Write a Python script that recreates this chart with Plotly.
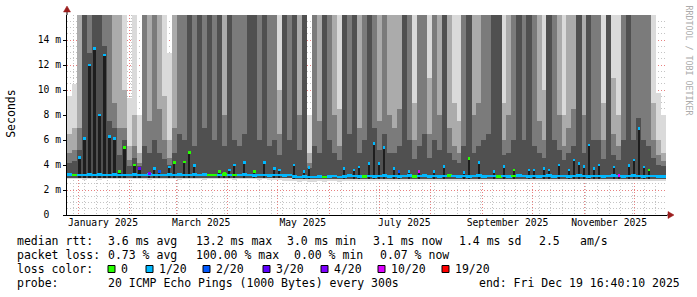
import plotly.graph_objects as go
import pandas as pd

# ------------------------------------------------------------------ data
period_start = "2024-12-25 09:20"
period_end = "2025-12-20 19:00"
window_days = 3  # one consolidated column = 3 days

# sorted ping ranks of 20 (ms), per 3-day window; 20 = beyond the axis top
rtt_min = [2.85, 2.85, 2.85, 2.8, 2.85, 2.85, 2.8, 2.85, 2.85, 2.85, 2.85, 2.85, 2.9, 2.85, 2.85, 2.85, 2.8, 2.85, 2.85, 2.85,
           2.85, 2.85, 2.8, 2.85, 2.85, 2.85, 2.85, 2.8, 2.85, 2.85, 2.85, 2.85, 2.85, 2.8, 2.85, 2.85, 2.85, 2.85, 2.8, 2.85,
           2.8, 2.8, 2.8, 2.75, 2.75, 2.7, 2.65, 2.7, 2.65, 2.65, 2.7, 2.65, 2.7, 2.7, 2.65, 2.7, 2.7, 2.7, 2.7, 2.7,
           2.7, 2.7, 2.7, 2.7, 2.7, 2.7, 2.7, 2.7, 2.7, 2.7, 2.7, 2.7, 2.7, 2.7, 2.7, 2.7, 2.7, 2.7, 2.7, 2.7,
           2.7, 2.7, 2.7, 2.7, 2.7, 2.7, 2.7, 2.7, 2.7, 2.7, 2.7, 2.7, 2.7, 2.7, 2.7, 2.7, 2.7, 2.7, 2.7, 2.7,
           2.7, 2.7, 2.7, 2.7, 2.7, 2.7, 2.7, 2.7, 2.7, 2.7, 2.7, 2.7, 2.7, 2.7, 2.7, 2.7, 2.7, 2.7, 2.7, 2.7]
rtt_lo = [3.0] * 0 + [3.0, 3.0, 3.0, 3.0, 3.0, 3.0, 3.0, 3.0, 3.0, 3.0, 3.0, 3.0, 3.0, 3.0, 3.0, 3.0, 3.0, 3.0, 3.0, 3.0,
          3.0, 3.0, 3.0, 3.0, 3.0, 3.0, 3.0, 3.0, 3.0, 3.0, 3.0, 3.0, 3.0, 3.0, 3.0, 3.0, 3.0, 3.0, 3.0, 3.0,
          3.0, 3.0, 3.0, 2.98, 2.96, 2.92, 2.9, 2.92, 2.9, 2.9, 2.92, 2.9, 2.92, 2.92, 2.9, 2.92, 2.92, 2.92, 2.92, 2.92,
          2.92, 2.92, 2.92, 2.92, 2.92, 2.92, 2.92, 2.92, 2.92, 2.92, 2.92, 2.92, 2.92, 2.92, 2.92, 2.92, 2.92, 2.92, 2.92, 2.92,
          2.92, 2.92, 2.92, 2.92, 2.92, 2.92, 2.92, 2.92, 2.92, 2.92, 2.92, 2.92, 2.92, 2.92, 2.92, 2.92, 2.92, 2.92, 2.92, 2.92,
          2.92, 2.92, 2.92, 2.92, 2.92, 2.92, 2.92, 2.92, 2.92, 2.92, 2.92, 2.92, 2.92, 2.92, 2.92, 2.92, 2.92, 2.92, 2.92, 2.92]
rtt_r12 = [4.2, 4.3, 5.2, 20, 13, 20, 20, 13.5, 7.5, 7, 4.8, 6, 3.9, 4.6, 3.9, 5.5, 5, 6, 5, 4.5,
           4.0, 5, 6.5, 6, 20, 5.5, 20, 7, 20, 6, 20, 5.5, 20, 6, 5.5, 6.5, 20, 20, 6, 20,
           5.5, 6, 4.8, 20, 6, 20, 5.2, 20, 3.8, 5.5, 5, 20, 6, 5, 4.4, 20, 6.5, 20, 5, 6,
           20, 7, 5.2, 6.5, 5, 5, 5.5, 20, 6, 4.5, 5.5, 6.5, 4.6, 6, 5.2, 20, 5, 4.4, 4.2, 5.5,
           20, 5, 5.5, 6, 6.5, 20, 20, 4.8, 5, 6, 20, 6, 20, 5.5, 5, 4.6, 20, 6, 5.2, 4.4,
           5, 5.5, 20, 5, 20, 6, 6, 4.5, 20, 4.8, 4.4, 6, 20, 6, 7.8, 6, 5.5, 4.6, 4.0, 3.9]
rtt_r14 = [5.0, 5.2, 7, 20, 20, 20, 20, 20, 20, 9, 7, 7, 4.4, 5.5, 4.2, 20, 7.5, 20, 8.5, 6,
           4.6, 7, 20, 20, 20, 20, 20, 20, 20, 20, 20, 8, 20, 20, 20, 20, 20, 20, 20, 20,
           20, 20, 6.5, 20, 20, 20, 8, 20, 4.2, 20, 7.5, 20, 20, 8, 5.5, 20, 20, 20, 7, 20,
           20, 20, 7.5, 20, 8, 7, 8.5, 20, 20, 6, 20, 20, 6.5, 20, 8, 20, 7, 5.5, 5, 20,
           20, 8, 9, 20, 20, 20, 20, 6, 8, 20, 20, 20, 20, 20, 7.5, 6, 20, 20, 8, 5.5,
           7, 8.5, 20, 8, 20, 20, 20, 6, 20, 6.5, 5.5, 20, 20, 20, 20, 20, 20, 6, 4.8, 4.3]
rtt_r17 = [6.5, 7.0, 20, 20, 20, 20, 20, 20, 20, 20, 20, 10, 5.5, 8, 5.0, 20, 20, 20, 20, 9.5,
           6.0, 20, 20, 20, 20, 20, 20, 20, 20, 20, 20, 20, 20, 20, 20, 20, 20, 20, 20, 20,
           20, 20, 10, 20, 20, 20, 20, 20, 5.0, 20, 20, 20, 20, 20, 8.5, 20, 20, 20, 20, 20,
           20, 20, 20, 20, 20, 20, 20, 20, 20, 9, 20, 20, 11, 20, 20, 20, 20, 9, 7.5, 20,
           20, 20, 20, 20, 20, 20, 20, 9, 20, 20, 20, 20, 20, 20, 20, 10, 20, 20, 20, 8,
           20, 20, 20, 20, 20, 20, 20, 9, 20, 11, 8, 20, 20, 20, 20, 20, 20, 9, 6.0, 5.0]
rtt_r20 = [9.5, 10.5, 20, 20, 20, 20, 20, 20, 20, 20, 20, 20, 9.4, 20, 8.0, 20, 20, 20, 20, 20,
           13.0, 20, 20, 20, 20, 20, 20, 20, 20, 20, 20, 20, 20, 20, 20, 20, 20, 20, 20, 20,
           20, 20, 20, 20, 20, 20, 20, 20, 8.0, 20, 20, 20, 20, 20, 20, 20, 20, 20, 20, 20,
           20, 20, 20, 20, 20, 20, 20, 20, 20, 20, 20, 20, 20, 20, 20, 20, 20, 20, 20, 20,
           20, 20, 20, 20, 20, 20, 20, 20, 20, 20, 20, 20, 20, 20, 20, 20, 20, 20, 20, 20,
           20, 20, 20, 20, 20, 20, 20, 20, 20, 20, 20, 20, 20, 20, 20, 20, 20, 20, 9.8, 8.0]

# typical median rtt per window (ms) and the highest median seen in the window
rtt_median = [3.22, 3.2, 3.2, 3.2, 3.22, 3.2, 3.22, 3.2, 3.2, 3.22, 3.2, 3.2, 3.2, 3.22, 3.2, 3.2, 3.22, 3.2, 3.2, 3.2,
              3.22, 3.2, 3.25, 3.2, 3.2, 3.22, 3.2, 3.25, 3.2, 3.2, 3.2, 3.22, 3.2, 3.2, 3.2, 3.22, 3.2, 3.18, 3.2, 3.2,
              3.18, 3.2, 3.2, 3.18, 3.2, 3.1, 3.05, 3.08, 3.05, 3.05, 3.08, 3.05, 3.1, 3.12, 3.05, 3.1, 3.15, 3.12, 3.1, 3.1,
              3.12, 3.1, 3.12, 3.15, 3.1, 3.12, 3.1, 3.12, 3.15, 3.1, 3.12, 3.15, 3.1, 3.12, 3.1, 3.12, 3.15, 3.12, 3.1, 3.12,
              3.1, 3.12, 3.15, 3.1, 3.12, 3.12, 3.1, 3.12, 3.1, 3.12, 3.15, 3.12, 3.1, 3.12, 3.1, 3.12, 3.15, 3.1, 3.12, 3.12,
              3.1, 3.12, 3.15, 3.12, 3.1, 3.12, 3.12, 3.1, 3.12, 3.15, 3.12, 3.1, 3.12, 3.15, 3.12, 3.1, 3.12, 3.12, 3.1, 3.1]
rtt_median_peak = [None, None, 4.6, 6.1, 12.0, 13.3, 8.0, 12.8, 6.3, 6.1, 3.5, 5.4, None, 4.0, 3.7, None, 3.3, 3.75, 3.5, None,
                   3.85, 4.2, None, 4.25, 5.0, 3.95, None, None, None, None, 3.5, 3.35, 3.6, 4.0, None, 4.2, None, 3.5, None, 4.2,
                   None, 3.75, 3.6, None, None, 4.0, None, 3.5, 3.8, None, None, None, None, None, None, 3.75, None, 3.6, 3.85, None,
                   4.1, 5.7, 4.1, 5.4, None, 3.75, 3.5, None, 3.5, None, 3.5, None, None, 3.5, None, 3.9, None, None, None, 3.4,
                   4.5, None, 4.2, None, None, 3.5, None, 3.9, None, 3.6, None, None, 3.6, 3.6, None, 3.7, 3.6, None, 4.0, None,
                   3.6, 4.4, 4.1, 3.9, 5.6, 3.75, 4.0, None, None, 3.85, 3.15, None, 3.95, 4.4, 6.9, 3.85, 3.6, None, None, None]

# lost pings (of 20) for the typical median and for the peak median
loss_median = [1, 0, 1, 1, 1, 1, 1, 1, 1, 1, 1, 1, 1, 1, 1, 1, 1, 1, 1, 1,
               1, 1, 1, 1, 1, 1, 1, 1, 0, 0, 1, 0, 1, 0, 1, 1, 1, 1, 1, 1,
               1, 1, 1, 1, 1, 1, 1, 1, 1, 1, 1, 0, 1, 1, 1, 1, 1, 1, 1, 0,
               1, 1, 1, 1, 1, 1, 1, 1, 1, 0, 1, 1, 1, 1, 1, 1, 0, 1, 1, 1,
               1, 1, 1, 1, 1, 1, 0, 1, 1, 0, 1, 1, 1, 1, 1, 1, 1, 1, 1, 1,
               1, 1, 1, 1, 1, 1, 1, 1, 1, 1, 1, 1, 1, 1, 1, 1, 1, 1, 1, 1]
loss_peak = [1, 0, 1, 1, 1, 1, 1, 1, 1, 1, 0, 0, 1, 0, 3, 1, 4, 1, 2, 1,
             1, 0, 1, 0, 0, 1, 1, 1, 0, 0, 0, 0, 1, 1, 1, 1, 1, 0, 1, 1,
             1, 1, 1, 1, 1, 1, 1, 1, 1, 1, 1, 0, 1, 1, 1, 1, 1, 1, 1, 0,
             1, 1, 1, 1, 1, 1, 2, 1, 1, 0, 10, 1, 1, 1, 1, 1, 0, 1, 1, 1,
             0, 1, 1, 1, 1, 1, 0, 1, 1, 0, 1, 1, 1, 1, 1, 1, 1, 1, 1, 1,
             1, 1, 1, 1, 1, 1, 1, 1, 1, 1, 10, 1, 1, 1, 1, 1, 0, 1, 1, 1]

loss_levels = [0, 1, 2, 3, 4, 10, 19]
loss_labels = ["0", "1/20", "2/20", "3/20", "4/20", "10/20", "19/20"]
loss_colors = ["#26ff00", "#00b8ff", "#0059ff", "#5e00ff", "#7e00ff", "#dd00ff", "#ff0000"]

y_tick_vals = [0, 2, 4, 6, 8, 10, 12, 14]
y_tick_text = ["0\u00a0\u00a0", "2 m", "4 m", "6 m", "8 m", "10 m", "12 m", "14 m"]
month_starts = ["2025-01-01", "2025-02-01", "2025-03-01", "2025-04-01", "2025-05-01", "2025-06-01",
                "2025-07-01", "2025-08-01", "2025-09-01", "2025-10-01", "2025-11-01", "2025-12-01"]
x_label_dates = ["2025-01-16", "2025-03-16", "2025-05-16", "2025-07-16", "2025-09-16", "2025-11-16"]
x_labels = ["January 2025", "March 2025", "May 2025", "July 2025", "September 2025", "November 2025"]

rtt_stats = ["3.6 ms avg", "13.2 ms max", "3.0 ms min", "3.1 ms now", "1.4 ms sd", "2.5", "am/s"]
loss_stats = ["0.73 % avg", "100.00 % max", "0.00 % min", "0.07 % now"]
probe_text = "20 ICMP Echo Pings (1000 Bytes) every 300s"
end_text = "end: Fri Dec 19 16:40:10 2025"
y_title = "Seconds"
watermark = "RRDTOOL / TOBI OETIKER"

# ------------------------------------------------------------------ build
MONO = "DejaVu Sans Mono, monospace"
DAY_MS = 86400000
col_dates = pd.date_range(period_start, periods=len(rtt_median), freq=f"{window_days}D") + pd.Timedelta(hours=12 * window_days)
full_w = window_days * DAY_MS * 1.03


def loss_color(n):
    c = loss_colors[0]
    for lvl, col in zip(loss_levels, loss_colors):
        if n >= lvl:
            c = col
    return c


def bar(xs, base, top, color, width):
    return go.Bar(x=list(xs), base=list(base), y=[t - b for t, b in zip(top, base)],
                  width=width, marker=dict(color=color, line=dict(width=0)),
                  hoverinfo="skip", showlegend=False)


fig = go.Figure()
# smoke: outer pings lightest, inner pings darker
fig.add_trace(bar(col_dates, rtt_min, rtt_r20, "#dadada", full_w))
fig.add_trace(bar(col_dates, rtt_lo, rtt_r17, "#ababab", full_w))
fig.add_trace(bar(col_dates, rtt_lo, rtt_r14, "#7b7b7b", full_w))
fig.add_trace(bar(col_dates, rtt_lo, rtt_r12, "#505050", full_w))

# dark core up to peak medians
pk_idx = [i for i, v in enumerate(rtt_median_peak) if v is not None]
pk_x = [col_dates[i] for i in pk_idx]
pk_v = [rtt_median_peak[i] for i in pk_idx]
fig.add_trace(bar(pk_x, [rtt_lo[i] for i in pk_idx], pk_v, "#1e1e1e", 1.3 * DAY_MS))

# median line coloured by loss
half = 0.11
fig.add_trace(go.Bar(x=list(col_dates), base=[m - half for m in rtt_median], y=[2 * half] * len(rtt_median),
                     width=full_w, marker=dict(color=[loss_color(n) for n in loss_median], line=dict(width=0)),
                     hoverinfo="skip", showlegend=False))
fig.add_trace(go.Bar(x=pk_x, base=[v - half for v in pk_v], y=[2 * half] * len(pk_v),
                     width=1.5 * DAY_MS, marker=dict(color=[loss_color(loss_peak[i]) for i in pk_idx], line=dict(width=0)),
                     hoverinfo="skip", showlegend=False))
fig.add_trace(go.Scatter(x=[], y=[], xaxis="x2", yaxis="y", hoverinfo="skip", showlegend=False))

# ------------------------------------------------------------------ layout
W, H = 697, 297
PL, PR, PT, PB = 67, 667, 15, 215


def px2x(px):
    return (px - PL) / (PR - PL)


def py2y(py):
    return (PB - py) / (PB - PT)


MAJOR = "#e88080"
MINOR = "#c4c4c4"
DASH = "1px,2px"

fig.update_layout(
    width=W, height=H, margin=dict(l=PL, r=W - PR, t=PT, b=H - PB),
    paper_bgcolor="white", plot_bgcolor="white", barmode="overlay", bargap=0,
    showlegend=False, font=dict(family=MONO, size=10, color="black"),
    xaxis=dict(type="date", range=[period_start, period_end], tickmode="array", tickvals=month_starts,
               showticklabels=False, ticks="", showgrid=True, gridcolor=MAJOR, griddash=DASH, gridwidth=1,
               showline=True, linecolor="black", linewidth=1, zeroline=False, fixedrange=True,
               minor=dict(tickmode="linear", tick0="2024-12-29", dtick=7 * DAY_MS, showgrid=True,
                          gridcolor=MINOR, griddash=DASH, gridwidth=1, ticks="")),
    xaxis2=dict(type="date", overlaying="x", anchor="y", side="bottom", range=[period_start, period_end],
                tickmode="array", tickvals=x_label_dates, ticktext=x_labels, showgrid=False, showline=False,
                zeroline=False, ticks="", tickfont=dict(family=MONO, size=9.7, color="black"), fixedrange=True),
    yaxis=dict(range=[0, 16], tickmode="array", tickvals=y_tick_vals, ticktext=y_tick_text,
               ticks="outside", ticklen=3, tickcolor="black", showgrid=True, gridcolor=MAJOR, griddash=DASH,
               gridwidth=1, showline=True, linecolor="black", linewidth=1, zeroline=False, fixedrange=True,
               tickfont=dict(family=MONO, size=9.7, color="black"),
               minor=dict(tickmode="linear", tick0=0, dtick=0.5, showgrid=True, gridcolor=MINOR,
                          griddash=DASH, gridwidth=1, ticks="")),
)

ann = []
shapes = []


def text(px, py, s, size=11.5, color="black", anchor="left", angle=0):
    ann.append(dict(x=px2x(px), y=py2y(py), xref="paper", yref="paper", text=s, showarrow=False,
                    xanchor=anchor, yanchor="middle", textangle=angle, borderpad=0,
                    font=dict(family=MONO, size=size, color=color)))


# axis title and watermark
text(10.8, 114, y_title, size=11.5, anchor="center", angle=-90)
text(688.5, 60, watermark, size=8.3, color="#ababab", anchor="center", angle=90)

# legend rows
r1, r2, r3, r4 = 241, 255, 269, 283
text(16, r1, "median rtt:")
for s, px in zip(rtt_stats, [107, 195, 286, 372, 458, 538, 579]):
    text(px, r1, s)
text(16, r2, "packet loss:")
for s, px in zip(loss_stats, [107, 195, 293, 379]):
    text(px, r2, s)
text(16, r3, "loss color:")
for lab, col, bx in zip(loss_labels, loss_colors, [108, 146, 203, 263, 321, 378, 442]):
    shapes.append(dict(type="rect", xref="paper", yref="paper", x0=px2x(bx), x1=px2x(bx + 7),
                       y0=py2y(r3 + 3.5), y1=py2y(r3 - 3.5), fillcolor=col, line=dict(color="black", width=1)))
    text(bx + 12, r3, lab)
text(16, r4, "probe:")
text(107, r4, probe_text)
text(478, r4, end_text)

# axis extensions and arrow heads
ARROW = "#9b1c1c"
shapes.append(dict(type="line", xref="paper", yref="paper", x0=0, x1=0, y0=1, y1=py2y(10),
                   line=dict(color="black", width=1)))
shapes.append(dict(type="line", xref="paper", yref="paper", x0=1, x1=px2x(669), y0=0, y1=0,
                   line=dict(color="black", width=1)))
shapes.append(dict(type="path", xref="paper", yref="paper",
                   path=f"M {px2x(63.5)},{py2y(12)} L {px2x(70.5)},{py2y(12)} L {px2x(67)},{py2y(6)} Z",
                   fillcolor=ARROW, line=dict(color=ARROW, width=0.5)))
shapes.append(dict(type="path", xref="paper", yref="paper",
                   path=f"M {px2x(668)},{py2y(211.5)} L {px2x(668)},{py2y(218.5)} L {px2x(674)},{py2y(215)} Z",
                   fillcolor=ARROW, line=dict(color=ARROW, width=0.5)))

fig.update_layout(annotations=ann, shapes=shapes)
fig.write_html("out.html")
